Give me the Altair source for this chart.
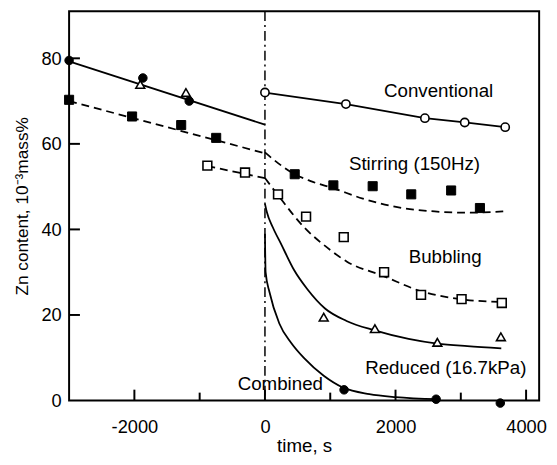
import altair as alt
import pandas as pd

FONT = "Liberation Sans"
W, H = 477, 395

# ---------------- data ----------------
# measured points before t = 0
comb_before_t = [-3000, -1870, -1160]
comb_before_v = [79.5, 75.4, 70.0]
red_before_t = [-1910, -1210]
red_before_v = [73.9, 72.0]
stir_before_t = [-3000, -2035, -1283, -747]
stir_before_v = [70.3, 66.4, 64.4, 61.4]
bub_before_t = [-882, -305]
bub_before_v = [54.9, 53.3]

# measured points after t = 0
conv_t = [0, 1240, 2450, 3060, 3680]
conv_v = [72.0, 69.3, 66.0, 65.0, 63.9]
stir_t = [456, 1048, 1650, 2241, 2852, 3293]
stir_v = [52.9, 50.3, 50.1, 48.2, 49.1, 45.0]
bub_t = [200, 630, 1207, 1825, 2391, 3012, 3628]
bub_v = [48.2, 43.0, 38.2, 30.0, 24.7, 23.7, 22.8]
red_t = [900, 1684, 2641, 3614]
red_v = [19.5, 16.8, 13.6, 14.9]
comb_t = [1212, 2622, 3605]
comb_v = [2.5, 0.3, -0.6]

# fitted / guide curves
line_conv_before_t = [-3000, 0]
line_conv_before_v = [79.3, 64.5]
line_stir_before_t = [-3000, 0]
line_stir_before_v = [70.0, 57.8]
line_bub_before_t = [-882, 0]
line_bub_before_v = [54.8, 52.0]
line_conv_after_t = conv_t
line_conv_after_v = conv_v
line_stir_after_t = [0, 200, 420, 700, 1050, 1500, 2100, 2600, 3100, 3650]
line_stir_after_v = [58.0, 55.5, 53.2, 51.3, 49.6, 47.2, 45.0, 44.2, 43.9, 44.2]
line_bub_after_t = [0, 200, 600, 1000, 1250, 1800, 2400, 3000, 3650]
line_bub_after_v = [52.0, 48.0, 40.5, 35.2, 32.5, 29.2, 25.5, 23.7, 23.0]
line_red_after_t = [0, 30, 120, 250, 446, 650, 920, 1250, 1680, 2200, 2640, 3100, 3620]
line_red_after_v = [46.0, 44.0, 40.5, 36.5, 30.5, 26.0, 21.5, 18.6, 16.4, 14.4, 13.3, 12.7, 12.2]
line_comb_after_t = [0, 10, 70, 220, 400, 600, 900, 1200, 1600, 2000, 2650]
line_comb_after_v = [39.0, 30.0, 25.3, 18.0, 13.5, 9.9, 5.8, 3.0, 1.5, 0.8, 0.3]

labels = ["Conventional", "Stirring (150Hz)", "Bubbling", "Reduced (16.7kPa)", "Combined"]
label_t = [2660, 2290, 2760, 2770, 235]
label_v = [72.3, 55.3, 33.6, 7.6, 3.9]

x_major = [-2000, 0, 2000, 4000]
x_minor = [-1000, 1000, 3000]
y_major = [20, 40, 60, 80]

# ---------------- frames ----------------
def seg_frame(segs):
    rows = []
    for name, ts, vs in segs:
        for i, (t, v) in enumerate(zip(ts, vs)):
            rows.append({"seg": name, "t": t, "v": v, "i": i})
    return pd.DataFrame(rows)

straight_df = seg_frame([
    ("conv_before", line_conv_before_t, line_conv_before_v),
    ("conv_after", line_conv_after_t, line_conv_after_v),
])
curve_df = seg_frame([
    ("red_after", line_red_after_t, line_red_after_v),
    ("comb_after", line_comb_after_t, line_comb_after_v),
])
dash_straight_df = seg_frame([
    ("stir_before", line_stir_before_t, line_stir_before_v),
    ("bub_before", line_bub_before_t, line_bub_before_v),
])
dash_curve_df = seg_frame([
    ("stir_after", line_stir_after_t, line_stir_after_v),
    ("bub_after", line_bub_after_t, line_bub_after_v),
])

xs = alt.Scale(domain=[-3000, 4200], nice=False)
ys = alt.Scale(domain=[0, 91], nice=False)

X = alt.X("t:Q", scale=xs, title="time, s",
          axis=alt.Axis(values=x_major, ticks=False, tickSize=0, domain=False, grid=False,
                        labelPadding=17, labelExpr="'' + datum.value",
                        titleY=52, titleBaseline="alphabetic", titleFontSize=19))
Y = alt.Y("v:Q", scale=ys, title="Zn content, 10⁻³mass%",
          axis=alt.Axis(values=[0] + y_major, ticks=False, tickSize=0, domain=False, grid=False,
                        labelPadding=8, titlePadding=10))

base_x = alt.X("t:Q", scale=xs)
base_y = alt.Y("v:Q", scale=ys)

solid = alt.Chart(straight_df).mark_line(color="black", strokeWidth=1.8).encode(
    x=X, y=Y, detail="seg:N", order="i:Q")
solid_curve = alt.Chart(curve_df).mark_line(color="black", strokeWidth=1.8,
                                            interpolate="monotone").encode(
    x=base_x, y=base_y, detail="seg:N", order="i:Q")
dashed = alt.Chart(dash_straight_df).mark_line(color="black", strokeWidth=1.8,
                                               strokeDash=[8, 5]).encode(
    x=base_x, y=base_y, detail="seg:N", order="i:Q")
dashed_curve = alt.Chart(dash_curve_df).mark_line(color="black", strokeWidth=1.8,
                                                  strokeDash=[8, 5],
                                                  interpolate="monotone").encode(
    x=base_x, y=base_y, detail="seg:N", order="i:Q")

vline = alt.Chart(pd.DataFrame({"t": [0]})).mark_rule(
    color="black", strokeWidth=1.5, strokeDash=[10, 4, 2, 4]).encode(x=base_x)

def pts(ts, vs, shape, filled, size):
    df = pd.DataFrame({"t": ts, "v": vs})
    if filled:
        m = alt.Chart(df).mark_point(shape=shape, filled=True, fill="black", stroke="black",
                                     strokeWidth=1, size=size, opacity=1)
    else:
        m = alt.Chart(df).mark_point(shape=shape, filled=True, fill="white", stroke="black",
                                     strokeWidth=1.6, size=size, opacity=1)
    return m.encode(x=base_x, y=base_y)

points = [
    pts(comb_before_t + comb_t, comb_before_v + comb_v, "circle", True, 75),
    pts(red_before_t + red_t, red_before_v + red_v, "triangle-up", False, 80),
    pts(stir_before_t + stir_t, stir_before_v + stir_v, "square", True, 85),
    pts(bub_before_t + bub_t, bub_before_v + bub_v, "square", False, 80),
    pts(conv_t, conv_v, "circle", False, 70),
]

xmaj = alt.Chart(pd.DataFrame({"t": x_major})).mark_rule(color="black", strokeWidth=2).encode(
    x=base_x, y=alt.value(H), y2=alt.value(H - 11))
xmin = alt.Chart(pd.DataFrame({"t": x_minor})).mark_rule(color="black", strokeWidth=2).encode(
    x=base_x, y=alt.value(H), y2=alt.value(H - 8))
ymaj = alt.Chart(pd.DataFrame({"v": y_major})).mark_rule(color="black", strokeWidth=2).encode(
    y=base_y, x=alt.value(0), x2=alt.value(11))

text = alt.Chart(pd.DataFrame({"label": labels, "t": label_t, "v": label_v})).mark_text(
    font=FONT, fontSize=19, color="black", align="center", baseline="middle").encode(
    x=base_x, y=base_y, text="label:N")

chart = alt.layer(solid, solid_curve, dashed, dashed_curve, vline, *points,
                  xmaj, xmin, ymaj, text).properties(
    width=W, height=H,
    autosize=alt.AutoSizeParams(type="none"),
    padding={"left": 62, "top": 0, "right": 10, "bottom": 53},
).configure_view(stroke="black", strokeWidth=2).configure_axis(
    labelFont=FONT, titleFont=FONT, labelFontSize=18.5, titleFontSize=17.5,
    labelColor="black", titleColor="black", titleFontWeight="normal"
)

chart.save("out.html", embed_options={"renderer": "svg", "actions": False})
